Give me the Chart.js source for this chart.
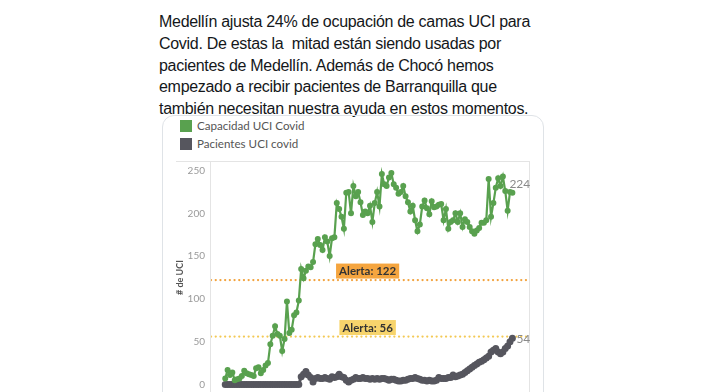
<!DOCTYPE html>
<html>
<head>
<meta charset="utf-8">
<script src="https://cdn.jsdelivr.net/npm/chart.js@4"></script>
<style>
  body { margin: 0; width: 706px; height: 392px; overflow: hidden; background: #fff; position: relative; }
  #tweet { position: absolute; left: 159px; top: 11px; font: 16px "Liberation Sans", Arial, sans-serif; letter-spacing: -0.3px; line-height: 21.8px; color: #14171a; white-space: nowrap; }
  #card { position: absolute; left: 162px; top: 115px; width: 382px; height: 300px; border: 1px solid #dfe3e7; border-radius: 12px; box-sizing: border-box; }
  .leg { position: absolute; left: 180px; font: 11.6px Lato, sans-serif; color: #555; height: 12px; }
  .leg span.box { position: absolute; left: 0; top: 0; width: 12px; height: 12px; }
  .leg span.txt { position: absolute; left: 17px; top: -1px; white-space: nowrap; }
  #wrap { position: absolute; left: 162px; top: 115px; width: 383px; height: 290px; }
</style>
</head>
<body>
<div id="tweet">Medellín ajusta 24% de ocupación de camas UCI para<br>Covid. De estas la&nbsp; mitad están siendo usadas por<br>pacientes de Medellín. Además de Chocó hemos<br>empezado a recibir pacientes de Barranquilla que<br>también necesitan nuestra ayuda en estos momentos.</div>
<div id="card"></div>
<div class="leg" style="top:120px"><span class="box" style="background:#59a14f"></span><span class="txt">Capacidad UCI Covid</span></div>
<div class="leg" style="top:138px"><span class="box" style="background:#56565e"></span><span class="txt">Pacientes UCI covid</span></div>
<div id="wrap"><canvas id="chart"></canvas></div>
<script>
// values, one per day
var capacidad = [7,17,11,14,5,6,7,10,16,13,
  12,11,10,19,20,13,17,22,25,47,
  57,68,59,57,39,53,97,60,64,81,
  84,98,135,124,133,138,137,143,164,170,
  163,157,172,167,150,171,172,212,205,196,
  182,224,225,200,232,220,225,213,198,202,
  200,209,190,212,225,208,246,234,232,242,
  247,234,230,223,225,232,220,213,202,209,
  192,179,187,208,215,206,199,214,207,208,
  210,211,192,205,182,190,192,200,190,200,
  184,193,190,184,179,176,180,183,189,189,
  192,240,196,212,230,241,232,243,226,203,
  225,224];

var pacientes = [0,0,0,0,0,0,0,0,0,0,
  0,0,0,0,0,0,0,0,0,0,
  0,0,0,0,0,0,0,0,0,0,
  0,0,9,12,15,11,8,3,7,8,7,
  7,8,7,6,9,8,9,12,9,8,
  5,3,5,6,8,7,7,8,7,7,
  6,7,6,7,6,7,7,6,5,6,
  6,5,4,4,5,5,6,7,7,8,
  7,6,5,5,4,5,4,4,5,8,
  7,7,7,8,8,11,9,10,11,12,
  14,16,18,20,22,24,26,27,29,31,
  33,38,40,42,38,36,38,42,45,50,54];

var dias = capacidad.map(function(v, i){ return i; });
var yTicks = [0, 50, 100, 150, 200, 250];

var alertas = [122, 56];
var alertaTextos = ["Alerta: 122", "Alerta: 56"];
var alertaLinea = ["#f2a23c", "#f3c955"];
var alertaCaja = ["#f5a53f", "#f7d46c"];

var xMin = -6, xMax = 128;

function puntos(arr){
  return arr.map(function(v, i){ return {x: dias[i], y: v}; });
}

var sets = [
  {label: "Capacidad UCI Covid", data: puntos(capacidad), borderColor: "#59a14f", backgroundColor: "#59a14f",
   borderWidth: 2.2, pointRadius: 1.9, pointHoverRadius: 1.9, order: 1},
  {label: "Pacientes UCI covid", data: puntos(pacientes), borderColor: "#56565e", backgroundColor: "#56565e",
   borderWidth: 3, pointRadius: 2, pointHoverRadius: 2, order: 2}
];
for (let i = 0; i < alertas.length; i++) {
  sets.push({label: alertaTextos[i], data: [{x: xMin, y: alertas[i]}, {x: xMax, y: alertas[i]}],
    borderColor: alertaLinea[i], borderWidth: 2.2, borderDash: [0.1, 4.6], borderCapStyle: "round",
    pointRadius: 0, order: 3});
}

var extras = {
  id: "extras",
  beforeDatasetsDraw: function(chart){
    var ctx = chart.ctx, a = chart.chartArea;
    ctx.save();
    ctx.strokeStyle = "#e4e4e4";
    ctx.lineWidth = 1;
    ctx.strokeRect(a.left - 0.5, a.top - 0.5, a.right - a.left + 1, a.bottom - a.top + 1);
    ctx.beginPath();
    ctx.moveTo(a.left - 35, a.top - 0.5);
    ctx.lineTo(a.left, a.top - 0.5);
    ctx.stroke();
    ctx.restore();
  },
  afterDatasetsDraw: function(chart){
    var ctx = chart.ctx;
    var xs = chart.scales.x, ys = chart.scales.y;
    ctx.save();
    // alert labels
    ctx.font = "bold 11.5px Lato, sans-serif";
    ctx.textBaseline = "middle";
    ctx.textAlign = "center";
    for (let i = 0; i < alertas.length; i++) {
      var cx = xs.getPixelForValue(60);
      var by = ys.getPixelForValue(alertas[i]) - 1.5;
      var w = ctx.measureText(alertaTextos[i]).width + 6;
      ctx.fillStyle = alertaCaja[i];
      ctx.fillRect(cx - w / 2, by - 15, w, 15);
      ctx.fillStyle = "#333";
      ctx.fillText(alertaTextos[i], cx, by - 7);
    }
    // end labels
    ctx.font = "12px Lato, sans-serif";
    ctx.fillStyle = "#8a8a8a";
    ctx.textAlign = "left";
    var n = capacidad.length - 1;
    var gx = xs.getPixelForValue(dias[n]), gy = ys.getPixelForValue(capacidad[n]);
    ctx.fillText(String(capacidad[n]), gx - 3, gy - 9);
    var m = pacientes.length - 1;
    var px = xs.getPixelForValue(dias[m]), py = ys.getPixelForValue(pacientes[m]);
    ctx.fillText(String(pacientes[m]), px + 4, py + 1);
    ctx.restore();
  }
};

new Chart(document.getElementById("chart"), {
  type: "line",
  data: {datasets: sets},
  options: {
    responsive: true,
    maintainAspectRatio: false,
    animation: false,
    layout: {padding: {left: 12, top: 47, right: 16, bottom: 11}},
    plugins: {legend: {display: false}, tooltip: {enabled: false}},
    elements: {line: {tension: 0}},
    scales: {
      x: {type: "linear", min: xMin, max: xMax, display: false},
      y: {
        min: -10, max: 260,
        afterBuildTicks: function(scale){ scale.ticks = yTicks.map(function(v){ return {value: v}; }); },
        afterFit: function(scale){ scale.width = 37; },
        grid: {display: false, drawTicks: false},
        border: {display: false},
        ticks: {color: "#9a9a9a", font: {size: 10, family: "Lato"}, padding: 6},
        title: {display: true, text: "# de UCI", color: "#555", font: {size: 9, weight: "bold", family: "Lato"}, padding: {top: 1, bottom: 0}}
      }
    }
  },
  plugins: [extras]
});
</script>
</body>
</html>
